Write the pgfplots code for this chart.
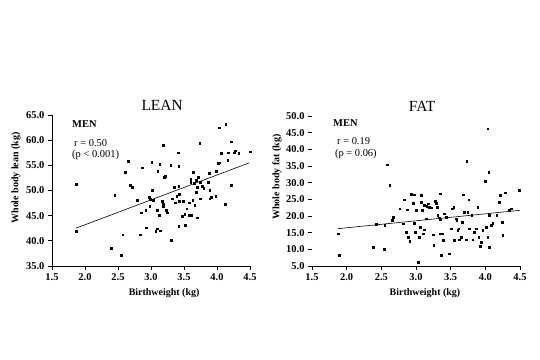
\documentclass[border=0pt]{standalone}
\usepackage{fontspec}
\setmainfont{Liberation Serif}
\usepackage{pgfplots}
\pgfplotsset{compat=1.18}
\pgfplotsset{
  panel/.style={
    scale only axis, anchor=south west, clip=false,
    enlargelimits=false,
    xmin=1.5, xmax=4.5,
    xtick={1.5,2,2.5,3,3.5,4,4.5},
    axis x line=bottom, axis y line=left,
    axis line style={-, line width=0.8bp},
    tick style={black, line width=0.8bp},
    major tick length=4bp,
    tick align=outside,
    xticklabel style={/pgf/number format/.cd, fixed, fixed zerofill, precision=1, assume math mode=true},
    yticklabel style={/pgf/number format/.cd, fixed, fixed zerofill, precision=1, assume math mode=true},
    tick label style={font=\bfseries\fontsize{10.5}{12}\selectfont},
    label style={font=\bfseries\fontsize{10}{12}\selectfont},
    title style={font=\fontsize{15.5}{18}\selectfont, anchor=base},
  },
  pts/.style={only marks, mark=square*, mark size=0.85bp, black},
  fit/.style={no marks, black, line width=0.6bp},
}
\tikzset{note/.style={anchor=west, inner sep=0pt, font=\fontsize{10.5}{12}\selectfont}}
\begin{document}
\begin{tikzpicture}
\path[use as bounding box] (0,0) rectangle (540bp,360bp);
% LEAN
\begin{axis}[panel,
  at={(52bp,94bp)}, width=198bp, height=151bp,
  ymin=35, ymax=65, ytick={35,40,...,65},
  title={LEAN}, title style={at={(axis description cs:0.556,0.987)}},
  xlabel={Birthweight (kg)}, xlabel style={at={(axis description cs:0.566,-0.179)}, anchor=center},
  ylabel={Whole body lean (kg)}, ylabel style={at={(axis description cs:-0.182,0.583)}, anchor=center},
]
\addplot[pts] coordinates {
(1.87,51.3) (1.87,41.9) (2.45,49.1) (2.40,38.5) (2.55,37.1) (2.57,41.2) (2.61,53.7) (2.65,55.8)
(2.69,51.1) (2.72,50.6) (2.79,48.1) (2.87,54.5) (2.85,45.6) (2.84,41.2) (2.92,46.1) (2.93,42.6)
(2.98,46.9) (2.97,48.7) (2.99,48.3) (3.01,55.6) (3.02,50.1) (3.03,48.1) (3.07,41.9) (3.09,42.4)
(3.09,46.1) (3.12,45.1) (3.10,53.9) (3.13,55.2) (3.17,47.9) (3.18,46.8) (3.19,47.3) (3.14,42.0)
(3.18,59.0) (3.20,52.6) (3.22,52.9) (3.23,46.1) (3.25,45.6) (3.30,55.0) (3.31,40.1) (3.32,48.4)
(3.35,50.6) (3.37,47.6) (3.39,48.9) (3.41,57.5) (3.42,50.9) (3.43,49.3) (3.43,47.9) (3.42,42.9)
(3.42,54.8) (3.47,44.9) (3.49,47.9) (3.51,45.3) (3.52,43.1) (3.54,46.4) (3.57,45.1) (3.58,47.6)
(3.60,52.3) (3.60,51.7) (3.61,45.1) (3.63,48.1) (3.64,53.7) (3.65,51.5) (3.66,47.1) (3.68,49.7)
(3.68,52.1) (3.70,50.6) (3.70,44.6) (3.71,52.6) (3.74,59.4) (3.75,51.7) (3.75,48.4) (3.78,50.9)
(3.80,50.4) (3.87,51.7) (3.88,53.5) (3.89,50.1) (3.89,48.4) (3.91,48.7) (3.98,48.9) (3.99,53.9)
(4.02,55.4) (4.03,62.5) (4.06,57.4) (4.12,47.3) (4.13,63.2) (4.16,56.0) (4.17,57.5) (4.22,51.1)
(4.22,59.7) (4.26,57.5) (4.28,57.9) (4.33,57.4) (4.50,57.7) (4.03,55.5)
};
\addplot[fit] coordinates {(1.86,42.5) (4.49,55.5)};
\node[note, font=\bfseries\fontsize{10.5}{12}\selectfont] at (axis description cs:0.101,0.94) {MEN};
\node[note] at (axis description cs:0.111,0.815) {r = 0.50};
\node[note] at (axis description cs:0.101,0.735) {(p < 0.001)};
\end{axis}
% FAT
\begin{axis}[panel,
  at={(312bp,94bp)}, width=208bp, height=150bp,
  ymin=5, ymax=50, ytick={5,10,...,50},
  y axis line style={draw=none},
  ytick style={black, line width=0.8bp},
  title={FAT}, title style={at={(axis description cs:0.529,0.987)}},
  xlabel={Birthweight (kg)}, xlabel style={at={(axis description cs:0.543,-0.18)}, anchor=center},
  ylabel={Whole body fat (kg)}, ylabel style={at={(axis description cs:-0.168,0.593)}, anchor=center},
]
\addplot[pts] coordinates {
(1.874,14.7) (1.889,8.2) (2.379,10.7) (2.427,17.5) (2.537,10.0) (2.547,17.2) (2.580,35.4) (2.619,29.2)
(2.657,18.7) (2.676,19.7) (2.763,22.2) (2.811,17.7) (2.825,24.9) (2.859,15.2) (2.868,21.9) (2.883,13.7)
(2.907,12.5) (2.931,26.5) (2.955,23.9) (2.969,17.9) (2.979,26.4) (2.988,15.2) (3.003,21.7) (3.027,6.2)
(3.051,13.7) (3.060,16.7) (3.075,26.2) (3.075,24.2) (3.089,21.7) (3.099,14.7) (3.123,15.9) (3.123,23.2)
(3.147,19.2) (3.156,22.9) (3.171,23.7) (3.195,22.7) (3.228,22.5) (3.243,14.4) (3.257,11.2) (3.276,24.4)
(3.291,23.9) (3.305,22.7) (3.315,20.2) (3.339,19.5) (3.348,18.9) (3.353,26.7) (3.348,14.7) (3.363,8.2)
(3.377,14.7) (3.396,12.7) (3.411,20.7) (3.435,19.7) (3.483,8.7) (3.507,16.2) (3.521,22.2) (3.545,22.7)
(3.555,12.7) (3.579,19.2) (3.588,18.7) (3.603,15.7) (3.617,16.2) (3.627,12.9) (3.651,13.7) (3.665,18.2)
(3.684,26.4) (3.699,21.2) (3.723,12.9) (3.732,36.5) (3.747,21.2) (3.761,24.9) (3.771,16.2) (3.804,20.2)
(3.819,12.9) (3.843,15.2) (3.867,16.2) (3.891,22.7) (3.905,13.7) (3.924,10.9) (3.939,12.2) (3.963,15.7)
(4.001,30.4) (4.011,16.7) (4.035,13.7) (4.049,33.2) (4.059,20.2) (4.083,17.2) (4.107,17.9) (4.035,46.2)
(4.059,10.7) (4.164,20.2) (4.203,24.2) (4.212,26.2) (4.241,18.2) (4.251,14.2) (4.284,27.0) (4.347,21.7)
(4.371,22.2) (4.491,27.7)
};
\addplot[fit] coordinates {(1.874,16.2) (4.5,21.7)};
\node[note, font=\bfseries\fontsize{10.5}{12}\selectfont] at (axis description cs:0.101,0.953) {MEN};
\node[note] at (axis description cs:0.12,0.83) {r = 0.19};
\node[note] at (axis description cs:0.11,0.745) {(p = 0.06)};
\end{axis}
\end{tikzpicture}
\end{document}
